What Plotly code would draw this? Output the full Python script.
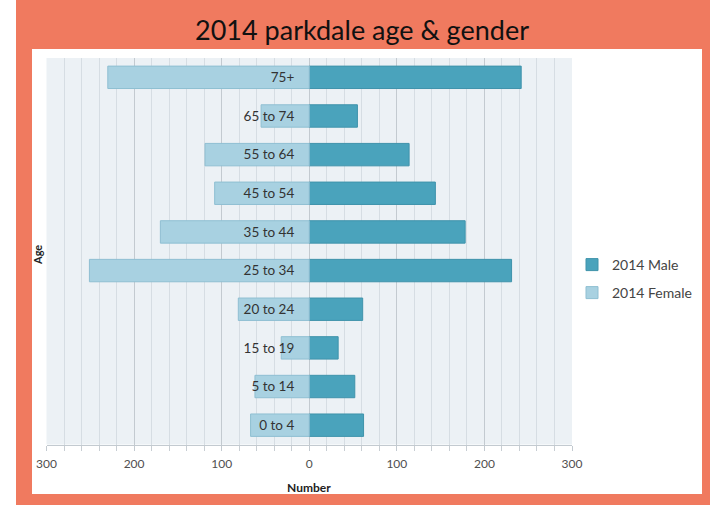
import plotly.graph_objects as go

W, H = 710, 505

# ---- data ----
age_groups = ["0 to 4", "5 to 14", "15 to 19", "20 to 24", "25 to 34",
              "35 to 44", "45 to 54", "55 to 64", "65 to 74", "75+"]
male_2014 = [62, 52, 33, 61, 231, 178, 144, 114, 55, 242]
female_2014 = [67, 62, 32, 81, 251, 170, 108, 119, 55, 230]
x_tick_vals = [-300, -200, -100, 0, 100, 200, 300]
x_tick_text = ["300", "200", "100", "0", "100", "200", "300"]

title_text = "2014 parkdale age & gender"
male_name = "2014 Male"
female_name = "2014 Female"

# ---- layout helpers (pixels -> paper) ----
def px(x):
    return x / W

def py(y):
    return 1 - y / H

plot_l, plot_r = 46.5, 572
plot_t, plot_b = 58, 444.5
xdom = [px(plot_l), px(plot_r)]
ydom = [py(plot_b), py(plot_t)]

FONT = "Lato"
MALE_C = "#4aa3bc"
FEMALE_C = "#a8d1e1"
PLOT_BG = "#ecf1f5"

fig = go.Figure()
fig.add_trace(go.Bar(
    y=age_groups, x=male_2014, orientation="h", name=male_name,
    marker=dict(color=MALE_C, line=dict(color="#3f93ab", width=1)),
    legend="legend", showlegend=True,
))
fig.add_trace(go.Bar(
    y=age_groups, x=[-v for v in female_2014], orientation="h", name=female_name,
    marker=dict(color=FEMALE_C, line=dict(color="#8fbfd2", width=1)),
    legend="legend2", showlegend=True,
))

fig.update_layout(
    width=W, height=H,
    autosize=False,
    showlegend=True,
    margin=dict(l=0, r=0, t=0, b=0, pad=0),
    paper_bgcolor="#f07a5f",
    plot_bgcolor=PLOT_BG,
    barmode="relative",
    bargap=0.42,
    font=dict(family=FONT, color="#404040"),
    title=dict(text=title_text, x=px(362), xanchor="center", xref="paper",
               y=py(31), yanchor="middle", yref="container", automargin=False,
               font=dict(family=FONT, size=27, color="#111111")),
    xaxis=dict(
        domain=xdom, range=[-300, 300], automargin=False,
        tickmode="array", tickvals=x_tick_vals, ticktext=x_tick_text,
        showgrid=True, gridcolor="#c3cad0", gridwidth=1,
        zeroline=False,
        showline=True, linecolor="#c3cad0", linewidth=1,
        ticks="outside", ticklen=5, tickcolor="#c3cad0",
        ticklabelstandoff=3,
        tickfont=dict(size=12, color="#505050"),
        minor=dict(tickmode="linear", tick0=0, dtick=20, showgrid=True,
                   gridcolor="#d6dde3", ticks="outside", ticklen=5,
                   tickcolor="#c8ced3"),
        fixedrange=True,
    ),
    yaxis=dict(
        domain=ydom, type="category", automargin=False,
        categoryorder="array", categoryarray=age_groups,
        anchor="free", position=(xdom[0] + xdom[1]) / 2,
        showgrid=False, showline=False, zeroline=False, ticks="",
        ticklabelstandoff=15,
        tickfont=dict(size=13.5, color="#333333"),
        fixedrange=True,
    ),
    legend=dict(x=px(572), y=py(265), xanchor="left", yanchor="middle",
                bgcolor="rgba(0,0,0,0)", font=dict(size=14, color="#444444")),
    legend2=dict(x=px(572), y=py(293), xanchor="left", yanchor="middle",
                 bgcolor="rgba(0,0,0,0)", font=dict(size=14, color="#444444")),
    shapes=[
        dict(type="rect", xref="paper", yref="paper", x0=0, x1=px(16), y0=0, y1=1,
             fillcolor="white", line=dict(width=0), layer="below"),
        dict(type="rect", xref="paper", yref="paper", x0=px(32), x1=px(702),
             y0=py(494), y1=py(49),
             fillcolor="white", line=dict(width=0), layer="below"),
        dict(type="rect", xref="paper", yref="paper", x0=xdom[0], x1=xdom[1],
             y0=ydom[0], y1=ydom[1],
             fillcolor=PLOT_BG, line=dict(width=0), layer="below"),
    ],
    annotations=[
        dict(text="<b>Age</b>", x=px(37), y=py(255), xref="paper", yref="paper",
             xanchor="center", yanchor="middle",
             showarrow=False, textangle=-90, font=dict(size=11, color="#222222")),
        dict(text="<b>Number</b>", x=px(309), y=py(487), xref="paper", yref="paper",
             xanchor="center", yanchor="middle",
             showarrow=False, font=dict(size=12, color="#222222")),
    ],
)

fig.write_html(
    "out.html",
    config={"displayModeBar": False},
    post_script="document.body.style.margin='0';document.body.style.overflow='hidden';",
)
